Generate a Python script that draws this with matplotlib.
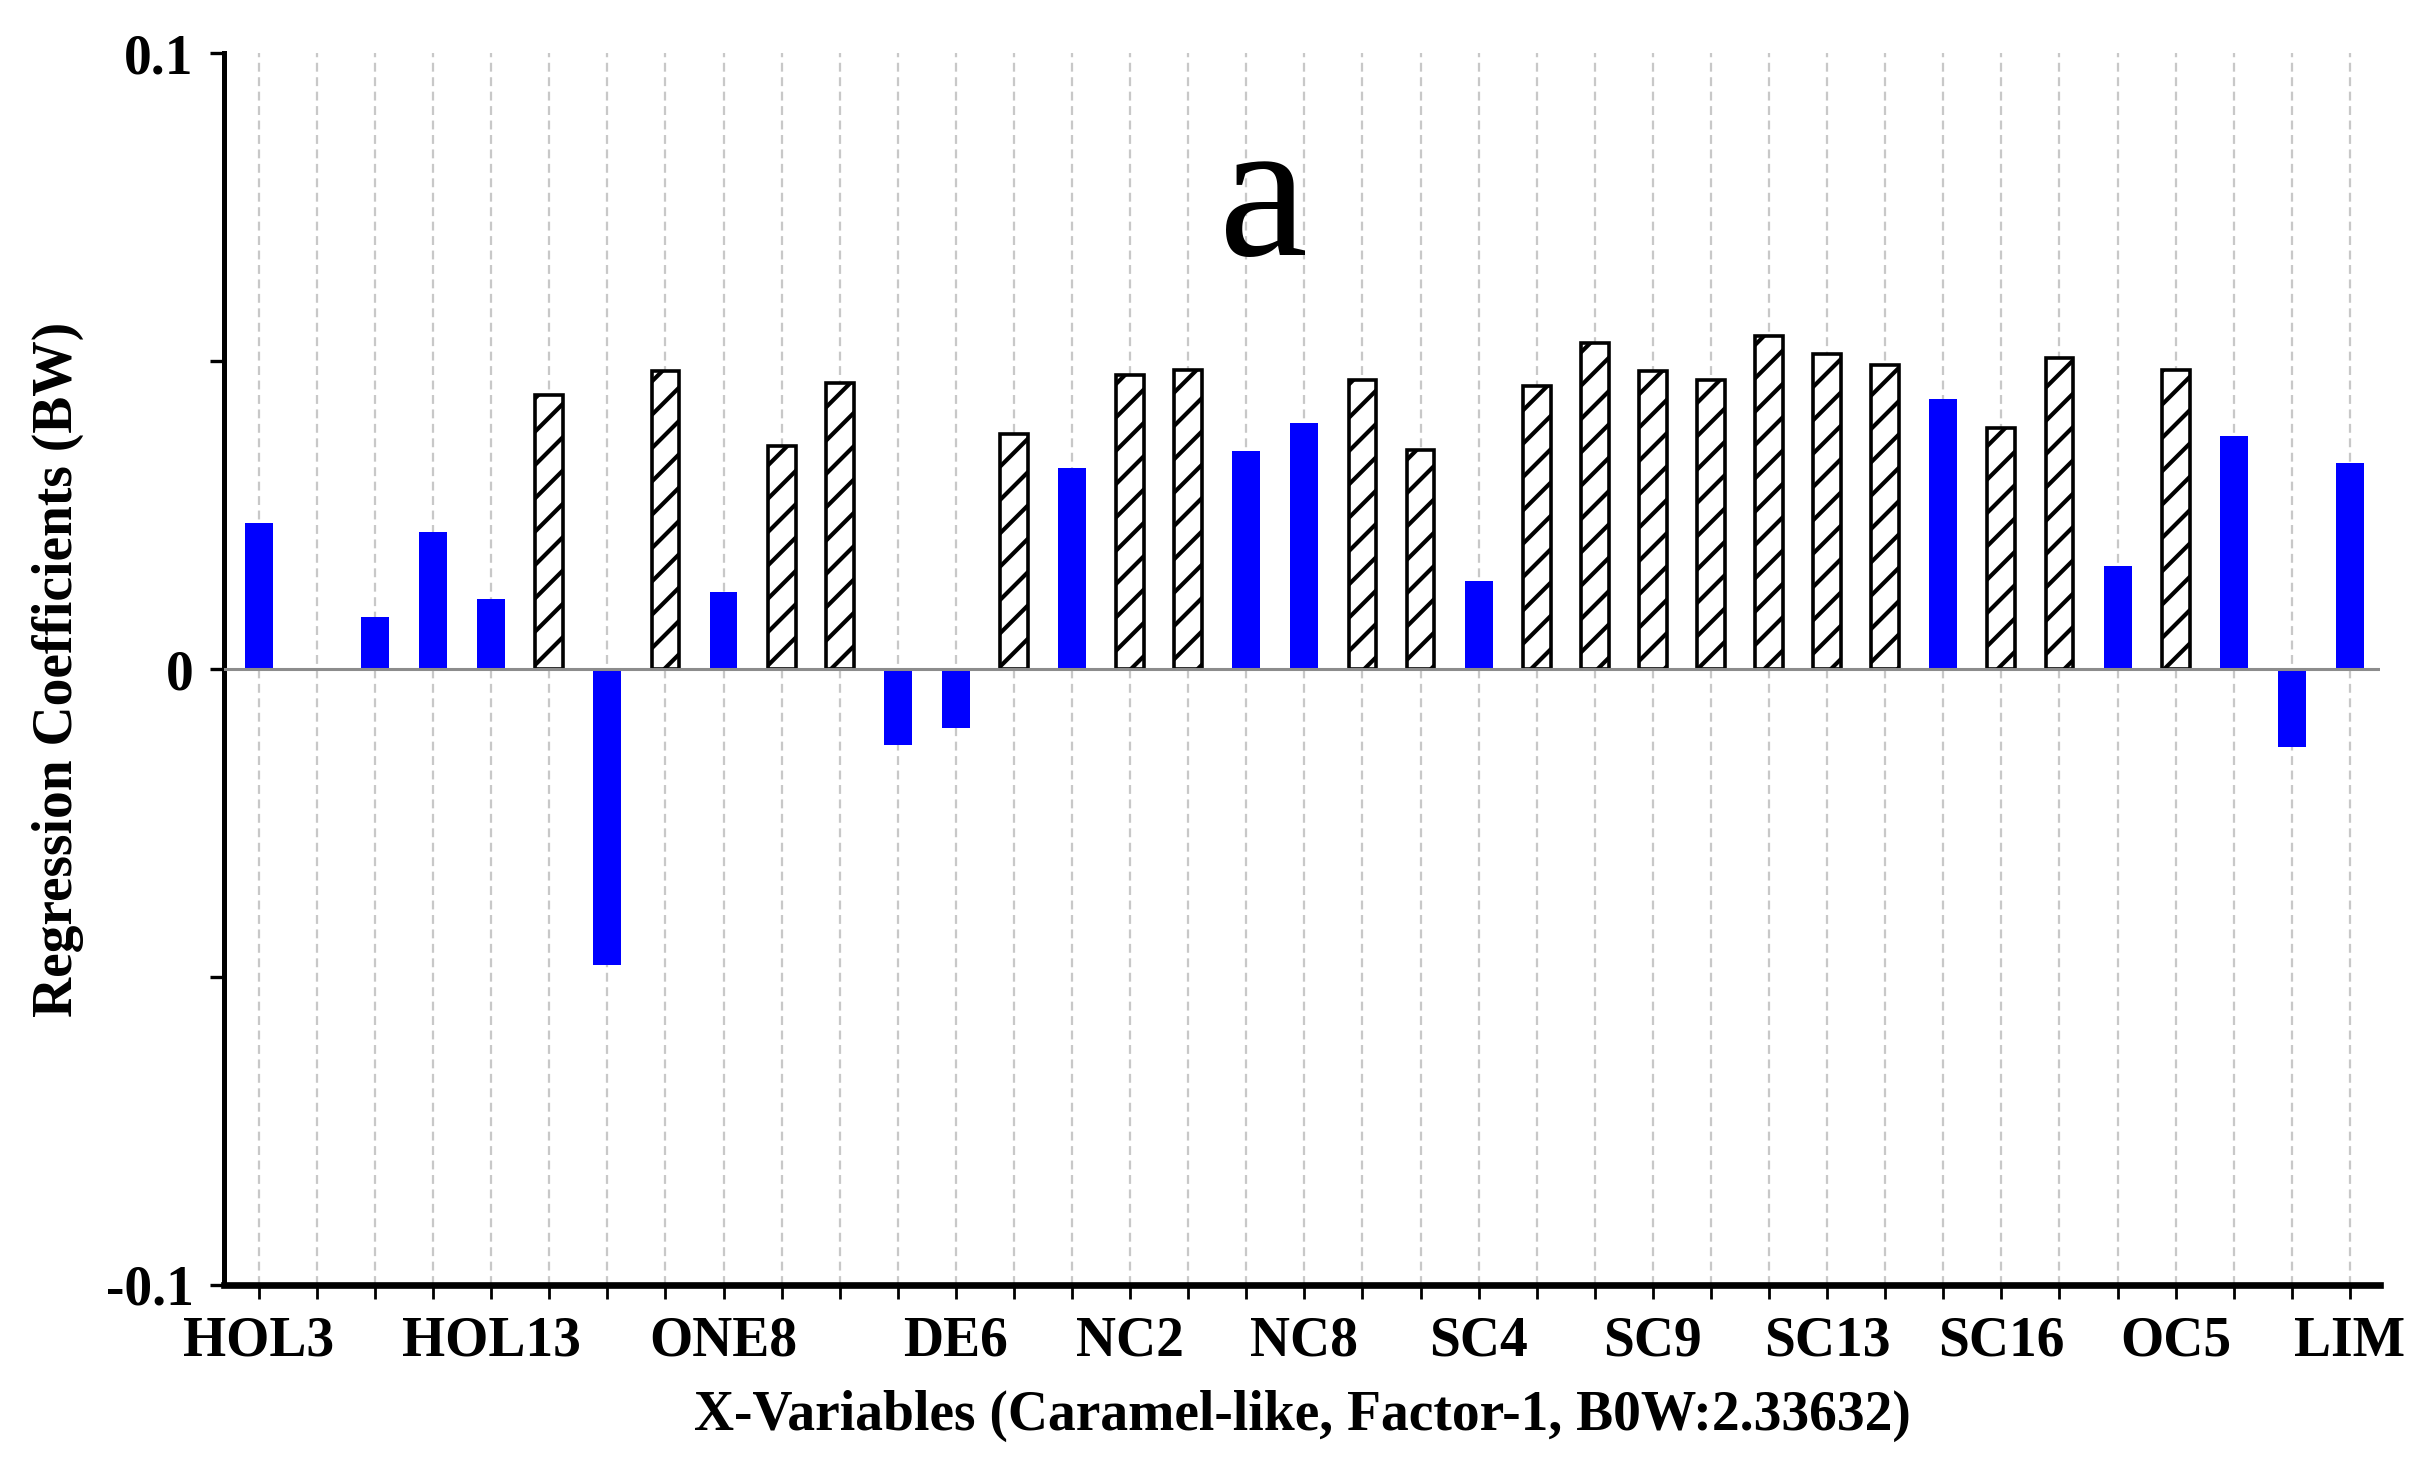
import numpy as np
import matplotlib
matplotlib.use("Agg")
import matplotlib.pyplot as plt

# data
tick_labels = ['HOL3', '', '', '', 'HOL13', '', '', '', 'ONE8', '', '', '', 'DE6',
               '', '', 'NC2', '', '', 'NC8', '', '', 'SC4', '', '', 'SC9', '', '',
               'SC13', '', '', 'SC16', '', '', 'OC5', '', '', 'LIM']
coefs = [0.0237, 0.0, 0.0085, 0.0222, 0.0114, 0.0445, -0.0481, 0.0484, 0.0125,
         0.0362, 0.0465, -0.0124, -0.0095, 0.0381, 0.0327, 0.0477, 0.0486, 0.0354,
         0.0400, 0.0470, 0.0355, 0.0143, 0.0460, 0.0529, 0.0484, 0.0470, 0.0540,
         0.0512, 0.0494, 0.0438, 0.0391, 0.0505, 0.0167, 0.0485, 0.0379, -0.0127,
         0.0335]
# 1 = hatched (significant), 0 = blue
significant = [0, 0, 0, 0, 0, 1, 0, 1, 0, 1, 1, 0, 0, 1, 0, 1, 1, 0, 0, 1, 1, 0,
               1, 1, 1, 1, 1, 1, 1, 0, 1, 1, 0, 1, 0, 0, 0]
ytick_vals = [-0.1, 0, 0.1]
ytick_text = ['-0.1', '0', '0.1']

plt.rcParams['font.family'] = ['Liberation Serif', 'DejaVu Serif']
plt.rcParams['hatch.linewidth'] = 1.5
plt.rcParams['hatch.color'] = 'black'

fig = plt.figure(figsize=(12.11, 7.31), dpi=200)
ax = fig.add_axes([0.0925, 0.1211, 0.8902, 0.8426])

x = np.arange(len(coefs))
vals = np.array(coefs)
sig = np.array(significant, dtype=bool)

# dashed vertical gridlines
for xi in x:
    ax.axvline(xi, color='#c8c8c8', lw=0.8, ls=(0, (4, 2.5)), zorder=0)

ax.bar(x[~sig], vals[~sig], width=0.48, color='#0000ff', edgecolor='none', zorder=2)
ax.bar(x[sig], vals[sig], width=0.48, color='white', edgecolor='black',
       linewidth=1.3, hatch='//', zorder=2)

ax.axhline(0, color='#8c8c8c', lw=1.1, zorder=3)

ax.set_xlim(-0.6, 36.52)
ax.set_ylim(-0.1, 0.1)

ax.set_xticks(x)
ax.set_xticklabels(tick_labels, fontsize=20, fontweight='bold')
ax.set_yticks(ytick_vals)
ax.set_yticklabels(ytick_text, fontsize=20, fontweight='bold')
ax.set_yticks([-0.05, 0.05], minor=True)

ax.tick_params(axis='x', direction='out', length=5, width=1.0, pad=6)
ax.tick_params(axis='y', which='both', direction='out', length=5, width=1.2, pad=6)

for s in ['top', 'right']:
    ax.spines[s].set_visible(False)
ax.spines['left'].set_linewidth(1.8)
ax.spines['bottom'].set_linewidth(2.4)

ax.set_xlabel('X-Variables (Caramel-like, Factor-1, B0W:2.33632)',
              fontsize=20, fontweight='bold', labelpad=8)
ax.set_ylabel('Regression Coefficients (BW)', fontsize=20, fontweight='bold',
              va='center')
ax.yaxis.set_label_coords(-0.077, 0.5)

ax.text(0.482, 0.836, 'a', transform=ax.transAxes, fontsize=72,
        ha='center', va='baseline')

fig.savefig('out.png', dpi=200)
